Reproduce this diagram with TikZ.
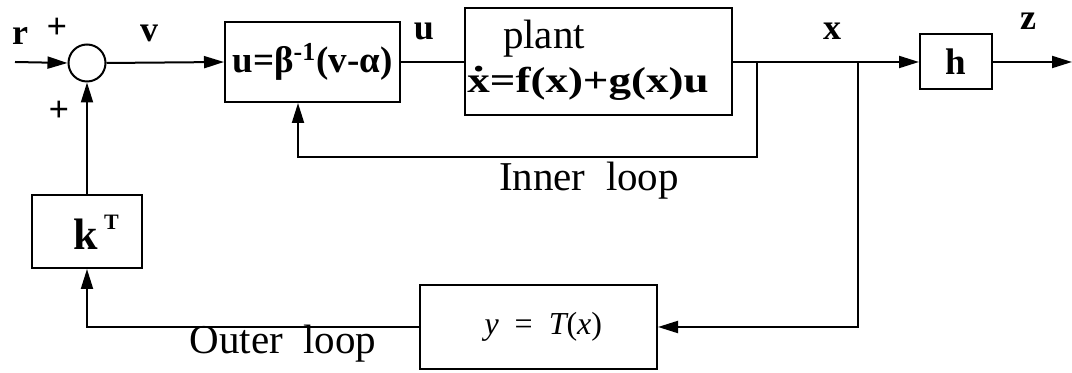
\documentclass[tikz,border=0pt]{standalone}
\usepackage{fontspec}
\setmainfont{Liberation Serif}
\newfontfamily\widefont[FakeStretch=1.25]{Liberation Serif}
\usetikzlibrary{arrows.meta,positioning}
\newcommand{\xdot}{\setbox0\hbox{x}\hbox to \wd0{\hss\raisebox{0.58em}{.}\hss}\kern-\wd0\box0}
\tikzset{blk/.style={draw,line width=1pt,inner sep=0pt,font=\fontsize{18.5}{20}\selectfont\bfseries},
  sig/.style={font=\fontsize{18}{20}\selectfont\bfseries},
  txt/.style={font=\fontsize{20.5}{22}\selectfont}}

\begin{document}
\begin{tikzpicture}[x=0.5pt,y=-0.5pt,line width=1pt,>={Triangle[length=10pt,width=6pt]}]
  \useasboundingbox (0,0) rectangle (1072,373);
  \coordinate (rin) at (15,62);   \coordinate (zout) at (1072,62);
  \coordinate (br1) at (757,62);  \coordinate (br2) at (858,62);
  \coordinate (il) at (298,157);
  \node[draw,circle,minimum size=18.5pt,inner sep=0pt] (sum) at (87,63) {};
  \node[blk,minimum width=87.5pt,minimum height=40pt] (ctrl) at (312.5,62) {u=β\textsuperscript{-1}(v-α)};
  \node[draw,minimum width=133.5pt,minimum height=53.5pt] (plant) at (598.5,62) {};
  \node[blk,minimum width=36pt,minimum height=27.5pt] (hbox) at (956,62) {h};
  \node[draw,minimum width=55pt,minimum height=36.5pt] (kbox) at (87,231.5) {};
  \node[draw,minimum width=118.5pt,minimum height=42pt,font=\fontsize{16}{18}\selectfont\itshape] (tbox) at (538.5,327) {\hspace{0.3em}y\ \ \upshape=\ \ \itshape T\upshape(\itshape x\upshape)};
  \node[sig,font=\fontsize{22}{24}\selectfont\bfseries] (kt) at (96,232) {k\hspace{0.15em}\raisebox{0.45em}{\fontsize{11}{11}\selectfont T}};
  \node[txt] (ptitle) at (544,39) {plant};
  \node[font=\fontsize{18}{20}\widefont\bfseries] (pdyn) at (588,83) {\xdot=f(x)+g(x)u};
  \draw[->] (rin) -- (sum.west);
  \draw[->] (sum.east) -- (ctrl.west);
  \draw (ctrl.east) -- (plant.west);
  \draw[->] (plant.east) -- (hbox.west);
  \draw[->] (hbox.east) -- (zout);
  \draw[->] (br1) |- (il) -- (il |- ctrl.south);
  \draw[->] (br2) |- (tbox.east);
  \draw[->] (tbox.west) -| (kbox.south);
  \draw[->] (kbox.north) -- (sum.south);
  \node[sig] (lr) at (20,36) {r};
  \node[sig] (lv) at (149,33) {v};
  \node[sig] (lu) at (424,31) {u};
  \node[sig] (lx) at (832,31) {x};
  \node[sig] (lz) at (1028,21) {z};
  \node[sig] (lp1) at (57,28) {+};
  \node[sig] (lp2) at (59,111) {+};
  \node[txt] (linner) at (589,181) {Inner\ \ loop};
  \node[txt] (louter) at (283,344) {Outer\ \ loop};
\end{tikzpicture}
\end{document}
